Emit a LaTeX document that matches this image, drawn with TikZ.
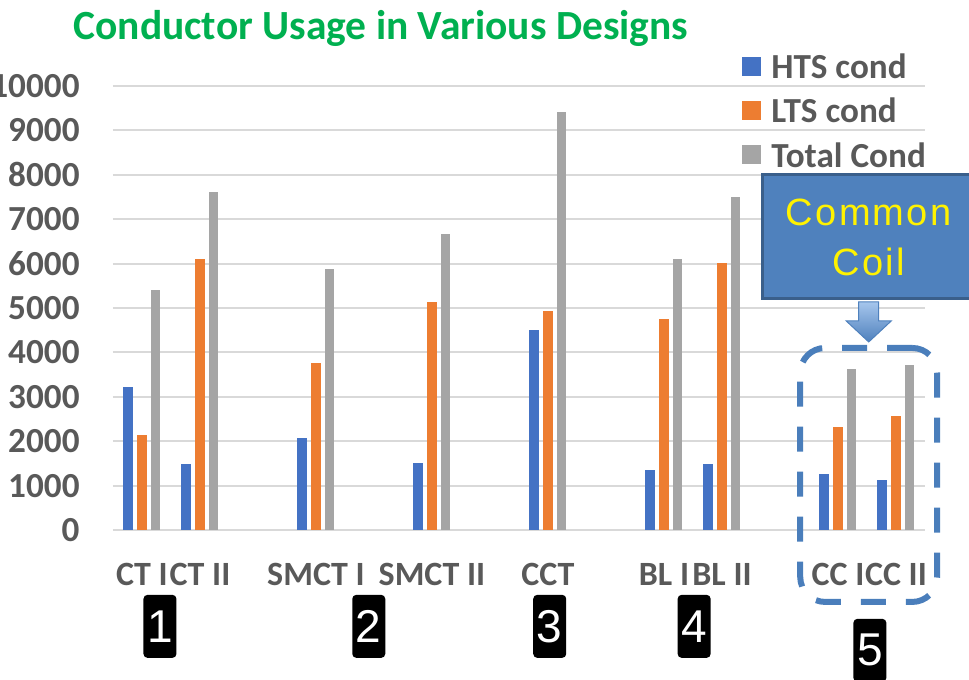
\documentclass[tikz,border=0pt]{standalone}
\usepackage{fontspec}
\setmainfont{Carlito}
\newfontfamily\arialfont{Liberation Sans}
\newfontfamily\coilfont[LetterSpace=6]{Liberation Sans}
\definecolor{htsblue}{HTML}{4472C4}
\definecolor{ltsorange}{HTML}{ED7D31}
\definecolor{totgray}{HTML}{A5A5A5}
\definecolor{gridgray}{HTML}{D9D9D9}
\definecolor{textgray}{HTML}{595959}
\definecolor{titlegreen}{HTML}{00B050}
\definecolor{coilblue}{HTML}{4F81BD}
\definecolor{coiledge}{HTML}{3A5F8B}
\definecolor{arrowtop}{HTML}{A9C8EE}
\definecolor{grpblue}{HTML}{4A7EBB}
\newcommand{\axisfont}{\fontsize{17.6}{20}\selectfont\bfseries}
\newcommand{\catfont}{\fontsize{17}{20}\selectfont\bfseries}
\tikzset{
  grid/.style={gridgray, line width=1pt},
  catlabel/.style={font=\catfont, text=textgray, inner sep=0pt},
  ylabel/.style={font=\axisfont, text=textgray, anchor=east, inner sep=0pt},
  legtext/.style={font=\axisfont, text=textgray, anchor=west, inner sep=0pt},
  legbox/.style={minimum size=9.5pt, inner sep=0pt},
  numbox/.style={fill=black, rounded corners=2pt, text=white, minimum width=16.5pt,
    minimum height=31.5pt, inner sep=0pt, font=\arialfont\fontsize{23}{26}\selectfont},
  coilbox/.style={fill=coilblue, draw=coiledge, line width=1.5pt, text=yellow, align=center,
    minimum width=106.5pt, minimum height=62pt, font=\coilfont\fontsize{19}{25}\selectfont},
  grpbox/.style={draw=grpblue, line width=3pt, rounded corners=12.5pt,
    dash pattern=on 12.5pt off 10pt, minimum width=68.5pt, minimum height=127pt}
}
\begin{document}
\begin{tikzpicture}[x=29pt, y=22.2pt]
  \clip (-1.948,-3.356) rectangle (14.759,11.937);

  % grid and axis numbers
  \foreach \v in {0,...,10} {
    \draw[grid] (0,\v) -- (14,\v);
    \pgfmathtruncatemacro\lab{\v*1000}
    \node[ylabel] (y\v) at (-0.569,\v) {\lab};
  }

  % bars: category / HTS / LTS / total (in thousands)
  \foreach \k/\h/\l/\t in {0/3.23/2.15/5.41, 1/1.48/6.10/7.62, 3/2.08/3.77/5.87,
      5/1.50/5.14/6.67, 7/4.50/4.93/9.41, 9/1.35/4.75/6.10, 10/1.48/6.01/7.51,
      12/1.26/2.31/3.62, 13/1.13/2.56/3.72} {
    \fill[htsblue] (\k+0.181,0) rectangle ++(0.172,\h);
    \fill[ltsorange] (\k+0.414,0) rectangle ++(0.172,\l);
    \fill[totgray] (\k+0.647,0) rectangle ++(0.172,\t);
  }

  \foreach \k/\name in {0/CT I, 1/CT II, 3/SMCT I, 5/SMCT II, 7/CCT, 9/BL I,
      10/BL II, 12/CC I, 13/CC II}
    \node[catlabel] (c\k) at (\k+0.5,-1.01) {\name};

  \node[font=\fontsize{20.75}{24}\selectfont\bfseries, text=titlegreen, anchor=base]
    (title) at (4.62,11.05) {Conductor Usage in Various Designs};

  % legend
  \node[legbox, fill=htsblue] (k1) at (11.01,10.45) {};
  \node[legbox, fill=ltsorange] (k2) at (11.01,9.45) {};
  \node[legbox, fill=totgray] (k3) at (11.01,8.45) {};
  \node[legtext] (l1) at (11.345,10.45) {HTS cond};
  \node[legtext] (l2) at (11.345,9.45) {LTS cond};
  \node[legtext] (l3) at (11.345,8.45) {Total Cond};

  \node[coilbox] (coil) at (13.03,6.60) {Common\\Coil};
  \node[grpbox] (grp) at (13.03,1.24) {};
  \shade[top color=arrowtop, bottom color=coilblue, draw=coilblue, line width=0.5pt]
    (coil.south) ++(-5pt,-0.75pt) -- ++(0,-9.5pt) -- ++(-6.25pt,0) -- ++(11.25pt,-10.5pt)
    -- ++(11.25pt,10.5pt) -- ++(-6.25pt,0) -- ++(0,9.5pt) -- cycle;

  \foreach \i/\x/\y in {1/0.81/-2.17, 2/4.41/-2.17, 3/7.53/-2.17, 4/10.02/-2.17, 5/13.05/-2.71}
    \node[numbox] (n\i) at (\x,\y) {\i};
\end{tikzpicture}
\end{document}
